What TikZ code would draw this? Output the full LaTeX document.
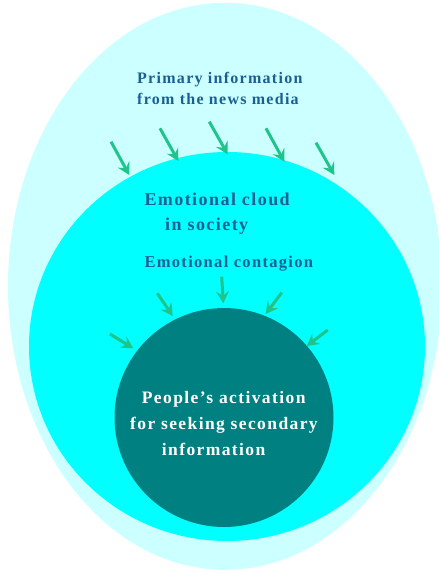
\documentclass[tikz,border=0pt]{standalone}
\usepackage{fontspec}
\usepackage{tikz}
\usetikzlibrary{arrows.meta}
\usetikzlibrary{shapes.geometric}
\newfontfamily\labelfont{Liberation Serif}[LetterSpace=8]
\definecolor{paleaqua}{RGB}{204,255,255}
\definecolor{aqua}{RGB}{0,255,255}
\definecolor{deepteal}{RGB}{0,128,128}
\definecolor{inkblue}{RGB}{26,95,145}
\definecolor{flowgreen}{RGB}{30,196,138}

\begin{document}
\begin{tikzpicture}[x=1pt, y=-1pt, >={Stealth[length=12pt, width=13pt, inset=4.5pt]}]
			\tikzstyle{region} = [ellipse, inner sep=0pt, outer sep=0pt]
			\tikzstyle{caption} = [anchor=base west, inner sep=0pt, align=left, text=inkblue]
			\tikzstyle{flow} = [flowgreen, line width=3pt]
			\useasboundingbox (0,0) rectangle (439,574);
			% nested regions
			\node[region, fill=paleaqua, minimum width=434pt, minimum height=567pt] (media) at (225,286.3) {};
			\node[region, fill=aqua, minimum width=396pt, minimum height=389pt] (cloud) at (227,346.5) {};
			\node[region, fill=deepteal, minimum width=219pt, minimum height=219pt] (people) at (224,417.5) {};
			% labels (base = last line)
			\node[caption, font=\labelfont\bfseries\fontsize{16}{21}\selectfont] (medialabel) at (137,104)
				{Primary information\\from the news media};
			\node[caption, font=\labelfont\bfseries\fontsize{18}{25.7}\selectfont] (cloudlabel) at (144.3,230.7)
				{Emotional cloud\\\hspace*{20.7pt}in society};
			\node[caption, font=\labelfont\bfseries\fontsize{16.5}{20}\selectfont] (contagion) at (144.3,267.3)
				{Emotional contagion};
			\node[caption, text=white, font=\labelfont\bfseries\fontsize{17.5}{26}\selectfont] (peoplelabel) at (130,455)
				{\hspace*{11.7pt}People’s activation\\for seeking secondary\\\hspace*{31.7pt}information};
			% arrows onto the cloud
			\coordinate (m1) at (111,141.7);   \coordinate (c1) at (129.3,175);
			\coordinate (m2) at (160,128.3);   \coordinate (c2) at (178.3,161);
			\coordinate (m3) at (209.3,121.7); \coordinate (c3) at (227.7,154.3);
			\coordinate (m4) at (266,128.3);   \coordinate (c4) at (284.3,161.7);
			\coordinate (m5) at (316,142.7);   \coordinate (c5) at (334.3,175);
			% arrows onto the people
			\coordinate (e1) at (110,334);     \coordinate (p1) at (133.3,348.3);
			\coordinate (e2) at (157.3,293.3); \coordinate (p2) at (172.7,316);
			\coordinate (e3) at (221.7,276.7); \coordinate (p3) at (223.3,303.3);
			\coordinate (e4) at (281.7,292.7); \coordinate (p4) at (265.7,314);
			\coordinate (e5) at (327.7,330);   \coordinate (p5) at (306.7,346);
			\path[->, flow]
			(m1) edge (c1)
			(m2) edge (c2)
			(m3) edge (c3)
			(m4) edge (c4)
			(m5) edge (c5)
			(e1) edge (p1)
			(e2) edge (p2)
			(e3) edge (p3)
			(e4) edge (p4)
			(e5) edge (p5)
			;
\end{tikzpicture}
\end{document}
